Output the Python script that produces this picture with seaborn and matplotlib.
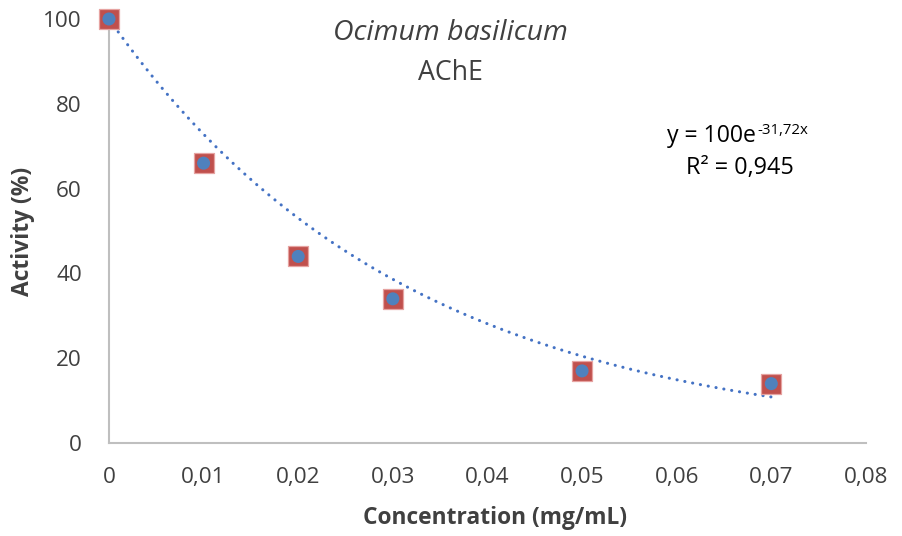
import numpy as np
import pandas as pd
import matplotlib
matplotlib.use("Agg")
import matplotlib.pyplot as plt
import seaborn as sns

concentration = [0.0, 0.01, 0.02, 0.03, 0.05, 0.07]
activity = [100, 66, 44, 34, 17, 14]
x_ticks = [0, 0.01, 0.02, 0.03, 0.04, 0.05, 0.06, 0.07, 0.08]
x_tick_labels = ["0", "0,01", "0,02", "0,03", "0,04", "0,05", "0,06", "0,07", "0,08"]
y_ticks = [0, 20, 40, 60, 80, 100]
fit_a = 100
fit_b = -31.72

sns.set_theme(style="white")
plt.rcParams['font.family'] = ['Open Sans', 'DejaVu Sans']

df = pd.DataFrame({"Concentration": concentration, "Activity": activity})

fig = plt.figure(figsize=(9.02, 5.36), dpi=100)
ax = fig.add_axes([0.1208, 0.1735, 0.8392, 0.7911])

xf = np.linspace(0, 0.07, 300)
fit_df = pd.DataFrame({"x": xf, "y": fit_a * np.exp(fit_b * xf)})
sns.lineplot(data=fit_df, x="x", y="y", ax=ax, color="#4472C4", linewidth=2.2,
             linestyle=(0, (0.05, 2.55)), dash_capstyle="round", zorder=2)

sns.scatterplot(data=df, x="Concentration", y="Activity", ax=ax, marker="s", s=210,
                color="#C0504D", edgecolor="#E6A3A1", linewidth=0.9, zorder=3)
sns.scatterplot(data=df, x="Concentration", y="Activity", ax=ax, marker="o", s=88,
                color="#4F81BD", edgecolor="none", zorder=4)
for coll in ax.collections:
    coll.set_clip_on(False)

ax.set_xlim(0, 0.08)
ax.set_ylim(0, 100)
ax.set_xticks(x_ticks)
ax.set_xticklabels(x_tick_labels)
ax.set_yticks(y_ticks)
ax.tick_params(axis="both", length=0, labelsize=16.2, labelcolor="#404040")
ax.tick_params(axis="x", pad=17.5)
ax.tick_params(axis="y", pad=19.5)

for s in ["top", "right"]:
    ax.spines[s].set_visible(False)
for s in ["left", "bottom"]:
    ax.spines[s].set_color("#BFBFBF")
    ax.spines[s].set_linewidth(1.5)
    ax.spines[s].set_zorder(1)

ax.set_xlabel("Concentration (mg/mL)", fontsize=16.4, fontweight="bold", color="#404040", labelpad=12.5)
ax.set_ylabel("Activity (%)", fontsize=16.4, fontweight="bold", color="#404040", labelpad=6)
ax.xaxis.label.set_x((495 - 109) / 757)

fig.text(450/902, 1 - 40/536, "Ocimum basilicum", ha="center", va="baseline",
         fontsize=20.5, style="italic", color="#404040")
fig.text(450/902, 1 - 80/536, "AChE", ha="center", va="baseline",
         fontsize=19.3, color="#404040")

fig.text(756/902, 1 - 142/536, "y = 100e", ha="right", va="baseline",
         fontsize=16.6, color="#000000")
fig.text(757/902, 1 - 134/536, "-31,72x", ha="left", va="baseline",
         fontsize=10.8, color="#000000")
fig.text(740/902, 1 - 174/536, "R² = 0,945", ha="center", va="baseline",
         fontsize=16.8, color="#000000")

fig.savefig("out.png", dpi=100)
